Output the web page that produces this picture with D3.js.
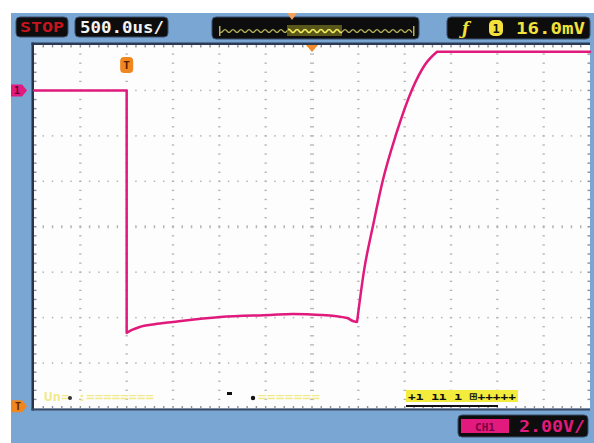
<!DOCTYPE html>
<html><head><meta charset="utf-8">
<script src="https://cdn.jsdelivr.net/npm/d3@7/dist/d3.min.js"></script>
<style>html,body{margin:0;padding:0;background:#fff}svg{display:block}</style>
</head><body>
<script>
// ---- data (time in ms, 500us/div; channel 1 in volts, 2V/div) ----
const timeMs = [0, 1.0, 1.0, 1.07, 1.14, 1.30, 1.50, 2.01, 2.55, 2.79, 3.09, 3.38, 3.44, 3.486, 3.561, 3.658, 3.766, 3.906, 4.079, 4.219, 4.349, 6.0];
const volts  = [0, 0, -10.67, -10.52, -10.41, -10.29, -10.19, -9.97, -9.88, -9.84, -9.88, -10.02, -10.15, -10.19, -7.94, -5.96, -3.93, -1.95, 0.03, 1.13, 1.70, 1.70];
// segment boundaries (indices) where the trace has sharp corners
const cornerIdx = [2, 13, 20];
const timeDomain = [0, 6];     // 12 divisions x 0.5 ms
const voltDomain = [2, -14];   // 8 divisions x 2 V
const xDivs = 12, yDivs = 8, subDivs = 5;
const runState = "STOP";
const timeBase = "500.0us/";
const trigLevel = "16.0mV";
const chLabel = "1";
const chScale = "2.00V/";
const trigTime = 1.0;          // trigger position marker
const trigLevelV = -13.9;      // trigger level marker (left)

const W = 594, H = 443;
const svg = d3.select("body").append("svg").attr("width", W).attr("height", H);
const mono = "'DejaVu Sans Mono', 'Liberation Mono', monospace";

// background
svg.append("rect").attr("x", 0).attr("y", 0).attr("width", W).attr("height", H).attr("fill", "#fff");
svg.append("rect").attr("x", 11).attr("y", 13).attr("width", W - 11).attr("height", H - 13).attr("fill", "#79a6d2");

const L = 34, R = 590, T = 45, B = 408.5;
const x = d3.scaleLinear().domain(timeDomain).range([L, R]);
const y = d3.scaleLinear().domain(voltDomain).range([T, B]);

// plot area
svg.append("rect").attr("x", L).attr("y", T).attr("width", R - L).attr("height", B - T).attr("fill", "#fdfdfd");
svg.append("rect").attr("x", L - 2.5).attr("y", T - 2.5).attr("width", 2.5).attr("height", B - T + 4.5).attr("fill", "#27344c");
svg.append("rect").attr("x", L - 2.5).attr("y", T - 2.5).attr("width", R - L + 2.5).attr("height", 2.5).attr("fill", "#2b3a55");
svg.append("rect").attr("x", L - 2.5).attr("y", B).attr("width", R - L + 2.5).attr("height", 2).attr("fill", "#3a4a66");

const g = svg.append("g");
const xStep = (timeDomain[1] - timeDomain[0]) / xDivs;
const yStep = (voltDomain[0] - voltDomain[1]) / yDivs;

// graticule dots
const dots = [];
for (let i = 1; i < xDivs; i++) {
  const t = timeDomain[0] + i * xStep;
  const center = i === xDivs / 2;
  for (let k = 1; k < yDivs * subDivs; k++) {
    const v = voltDomain[0] - k * yStep / subDivs;
    dots.push({cx: x(t), cy: y(v), w: center ? 4 : 2.4, h: 1.3});
  }
}
for (let j = 1; j < yDivs; j++) {
  const v = voltDomain[0] - j * yStep;
  const center = j === yDivs / 2;
  for (let k = 1; k < xDivs * subDivs; k++) {
    const t = timeDomain[0] + k * xStep / subDivs;
    dots.push({cx: x(t), cy: y(v), w: 1.5, h: center ? 3 : 1.5});
  }
}
g.selectAll("rect.dot").data(dots).join("rect").attr("class", "dot")
  .attr("x", d => d.cx - d.w / 2).attr("y", d => d.cy - d.h / 2)
  .attr("width", d => d.w).attr("height", d => d.h).attr("fill", "#b5b5b5");

// border ticks
const bt = [];
for (let k = 1; k < xDivs * subDivs; k++) {
  const t = timeDomain[0] + k * xStep / subDivs;
  bt.push({x: x(t) - 0.7, y: T, w: 1.4, h: 2.5});
  bt.push({x: x(t) - 0.7, y: B - 2.5, w: 1.4, h: 2.5});
}
for (let k = 1; k < yDivs * subDivs; k++) {
  const v = voltDomain[0] - k * yStep / subDivs;
  bt.push({x: L, y: y(v) - 0.7, w: 2.5, h: 1.4});
  bt.push({x: R - 2.5, y: y(v) - 0.7, w: 2.5, h: 1.4});
}
g.selectAll("rect.bt").data(bt).join("rect").attr("class", "bt")
  .attr("x", d => d.x).attr("y", d => d.y).attr("width", d => d.w).attr("height", d => d.h).attr("fill", "#8a8f99");

// trace: split at sharp corners, smooth within each piece
const pts = timeMs.map((t, i) => [t, volts[i]]);
const bounds = [0, ...cornerIdx, pts.length - 1];
const pieces = [];
for (let i = 0; i < bounds.length - 1; i++) pieces.push(pts.slice(bounds[i], bounds[i + 1] + 1));
const lineLin = d3.line().x(d => x(d[0])).y(d => y(d[1]));
const lineSmooth = d3.line().x(d => x(d[0])).y(d => y(d[1])).curve(d3.curveMonotoneX);
svg.append("path")
  .attr("d", pieces.map((p, i) => (i === 0 ? lineLin(p) : lineSmooth(p))).join(""))
  .attr("fill", "none").attr("stroke", "#e01a7c").attr("stroke-width", 2.5)
  .attr("stroke-linejoin", "round").attr("stroke-linecap", "round");

// ---- header ----
function box(x0, y0, w, h) {
  svg.append("rect").attr("x", x0).attr("y", y0).attr("width", w).attr("height", h)
    .attr("rx", 4).attr("fill", "#0d0d0d").attr("stroke", "#3b4f6a").attr("stroke-width", 1);
}
box(16, 17, 52, 20);
svg.append("text").attr("x", 20).attr("y", 32).attr("font-family", mono).attr("font-weight", "bold")
  .attr("font-size", 14).attr("fill", "#c8141f").attr("textLength", 44).attr("lengthAdjust", "spacingAndGlyphs").text(runState);
box(75, 17, 93, 20);
svg.append("text").attr("x", 80).attr("y", 33).attr("font-family", mono).attr("font-weight", "bold")
  .attr("font-size", 16).attr("fill", "#f2f2f2").attr("textLength", 84).attr("lengthAdjust", "spacingAndGlyphs").text(timeBase);

// overview box
box(212, 17, 207, 22);
const ov = d3.scaleLinear().domain(timeDomain).range([287, 342]);
const wave = [];
for (let px = 220; px <= 413; px += 2) wave.push([px, 31 + ((px / 2) % 4 < 2 ? -1.6 : 1.6)]);
svg.append("path").datum(wave).attr("d", d3.line().curve(d3.curveBasis))
  .attr("fill", "none").attr("stroke", "#b7b25a").attr("stroke-width", 1.2);
svg.append("rect").attr("x", ov(timeDomain[0])).attr("y", 25).attr("width", ov(timeDomain[1]) - ov(timeDomain[0])).attr("height", 11)
  .attr("fill", "#6d6a1e").attr("opacity", 0.8);
svg.append("path").datum(wave.filter(d => d[0] >= 287 && d[0] <= 342)).attr("d", d3.line().curve(d3.curveBasis))
  .attr("fill", "none").attr("stroke", "#f0e85a").attr("stroke-width", 1.6);
svg.append("rect").attr("x", 219).attr("y", 26).attr("width", 1.5).attr("height", 10).attr("fill", "#b7b25a");
svg.append("rect").attr("x", 413).attr("y", 26).attr("width", 1.5).attr("height", 10).attr("fill", "#b7b25a");
svg.append("path").attr("d", "M287,13 L297,13 L292,20 Z").attr("fill", "#f2a05a");

// trigger box
box(447, 17, 143, 22);
svg.append("text").attr("x", 462).attr("y", 34).attr("font-family", "'DejaVu Serif', serif").attr("font-style", "italic")
  .attr("font-weight", "bold").attr("font-size", 16).attr("fill", "#f3e13c").text("ƒ");
svg.append("rect").attr("x", 489).attr("y", 20).attr("width", 14).attr("height", 16).attr("rx", 5).attr("fill", "#f3e13c");
svg.append("text").attr("x", 496).attr("y", 33).attr("text-anchor", "middle").attr("font-family", mono).attr("font-weight", "bold")
  .attr("font-size", 12).attr("fill", "#111").text(chLabel);
svg.append("text").attr("x", 516).attr("y", 34).attr("font-family", mono).attr("font-weight", "bold")
  .attr("font-size", 16).attr("fill", "#f3e13c").attr("textLength", 69).attr("lengthAdjust", "spacingAndGlyphs").text(trigLevel);

// trigger time marker (top center)
svg.append("path").attr("d", `M${x(3) - 6},${T} L${x(3) + 6},${T} L${x(3)},${T + 7} Z`).attr("fill", "#f08a2a");
// trigger position marker "T"
svg.append("rect").attr("x", x(trigTime) - 6.5).attr("y", 57).attr("width", 13).attr("height", 16).attr("rx", 4).attr("fill", "#f0861f");
svg.append("text").attr("x", x(trigTime)).attr("y", 69).attr("text-anchor", "middle").attr("font-family", mono).attr("font-weight", "bold")
  .attr("font-size", 11).attr("fill", "#5a1a00").text("T");

// left channel marker
svg.append("path").attr("d", `M11,${y(0) - 6} L22,${y(0) - 6} L27,${y(0)} L22,${y(0) + 6} L11,${y(0) + 6} Z`).attr("fill", "#e21a7e");
svg.append("text").attr("x", 17).attr("y", y(0) + 4).attr("text-anchor", "middle").attr("font-family", mono).attr("font-weight", "bold")
  .attr("font-size", 10).attr("fill", "#5a0030").text(chLabel);
// left trigger level marker
svg.append("path").attr("d", `M11,${y(trigLevelV) - 6} L22,${y(trigLevelV) - 6} L27,${y(trigLevelV)} L22,${y(trigLevelV) + 6} L11,${y(trigLevelV) + 6} Z`).attr("fill", "#f0861f");
svg.append("text").attr("x", 18).attr("y", y(trigLevelV) + 4).attr("text-anchor", "middle").attr("font-family", mono).attr("font-weight", "bold")
  .attr("font-size", 10).attr("fill", "#6a2000").text("T");

// ---- bottom status line ----
svg.append("text").attr("x", 44).attr("y", 401).attr("font-family", mono).attr("font-weight", "bold")
  .attr("font-size", 12).attr("fill", "#f1ea8c").attr("textLength", 110).attr("lengthAdjust", "spacingAndGlyphs").text("Un= :========");
svg.append("circle").attr("cx", 70).attr("cy", 398).attr("r", 2).attr("fill", "#333");
svg.append("rect").attr("x", 227).attr("y", 392).attr("width", 5).attr("height", 3).attr("fill", "#111");
svg.append("circle").attr("cx", 253).attr("cy", 398).attr("r", 2.2).attr("fill", "#111");
svg.append("text").attr("x", 258).attr("y", 401).attr("font-family", mono).attr("font-weight", "bold")
  .attr("font-size", 12).attr("fill", "#f1ea8c").attr("textLength", 62).attr("lengthAdjust", "spacingAndGlyphs").text("=======");
svg.append("rect").attr("x", 406).attr("y", 390).attr("width", 112).attr("height", 12).attr("fill", "#f4ec3c");
svg.append("text").attr("x", 408).attr("y", 400).attr("font-family", mono).attr("font-weight", "bold")
  .attr("font-size", 11).attr("fill", "#111").attr("textLength", 108).attr("lengthAdjust", "spacingAndGlyphs").text("+ı ıı ı ⊞+++++");
svg.append("rect").attr("x", 406).attr("y", 405).attr("width", 92).attr("height", 2).attr("fill", "#111");

// channel scale box
box(458, 415, 130, 22);
svg.append("rect").attr("x", 461).attr("y", 419).attr("width", 48).attr("height", 14).attr("fill", "#e21a7e");
svg.append("text").attr("x", 485).attr("y", 430.5).attr("text-anchor", "middle").attr("font-family", mono).attr("font-weight", "bold")
  .attr("font-size", 11).attr("fill", "#7a0040").text("CH" + chLabel);
svg.append("text").attr("x", 519).attr("y", 432).attr("font-family", mono).attr("font-weight", "bold")
  .attr("font-size", 15).attr("fill", "#e21a7e").attr("textLength", 66).attr("lengthAdjust", "spacingAndGlyphs").text(chScale);
</script>
</body></html>
